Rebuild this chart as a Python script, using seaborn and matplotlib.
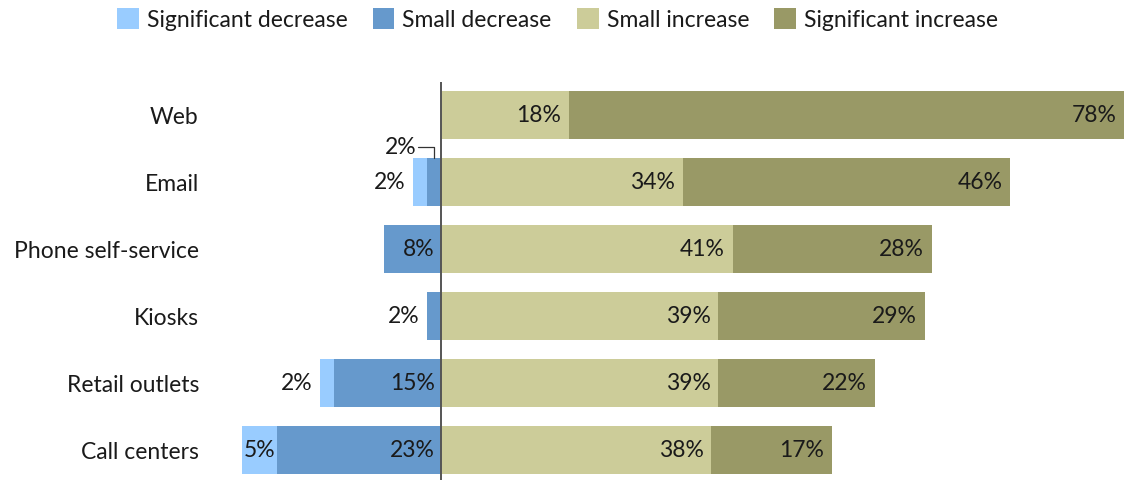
import matplotlib
matplotlib.use("Agg")
import matplotlib.pyplot as plt
import seaborn as sns
from matplotlib.patches import Patch

categories = ["Web", "Email", "Phone self-service", "Kiosks", "Retail outlets", "Call centers"]
sig_dec = [0, 2, 0, 0, 2, 5]
small_dec = [0, 2, 8, 2, 15, 23]
small_inc = [18, 34, 41, 39, 39, 38]
sig_inc = [78, 46, 28, 29, 22, 17]

legend_labels = ["Significant decrease", "Small decrease", "Small increase", "Significant increase"]
colors = ["#99ccff", "#6699cc", "#cccc99", "#999966"]

sns.set_theme(style="white")
plt.rcParams["font.family"] = ["Lato", "DejaVu Sans"]
plt.rcParams["text.color"] = "#1a1a1a"

W, H = 1124, 481
fig = plt.figure(figsize=(W / 100, H / 100), dpi=100)
ax_left_px, ax_top_px = 210, 83
ax = fig.add_axes([ax_left_px / W, 0, 1 - ax_left_px / W, (H - ax_top_px) / H])

tot_pos = [a + b for a, b in zip(small_inc, sig_inc)]
tot_neg = [-(a + b) for a, b in zip(small_dec, sig_dec)]
neg_small = [-v for v in small_dec]

bw = 0.72
sns.barplot(x=tot_pos, y=categories, orient="h", color=colors[3], width=bw, linewidth=0, saturation=1, ax=ax)
sns.barplot(x=small_inc, y=categories, orient="h", color=colors[2], width=bw, linewidth=0, saturation=1, ax=ax)
sns.barplot(x=tot_neg, y=categories, orient="h", color=colors[0], width=bw, linewidth=0, saturation=1, ax=ax)
sns.barplot(x=neg_small, y=categories, orient="h", color=colors[1], width=bw, linewidth=0, saturation=1, ax=ax)

ax.set_xlim(-(441 - ax_left_px) / 7.115, 96)
ax.set_ylim(5.45, -0.49)
ax.axvline(0, color="#555555", lw=1.4, zorder=5)
for s in ax.spines.values():
    s.set_visible(False)
ax.set_xticks([])
ax.set_xlabel("")
ax.set_ylabel("")
fs = 16.5
ax.tick_params(axis="y", length=0, pad=8, labelsize=fs, labelcolor="#1a1a1a")

pad = 1.1
for i in range(len(categories)):
    # positive labels
    ax.text(small_inc[i] - pad, i, f"{small_inc[i]}%", ha="right", va="center", fontsize=fs)
    ax.text(tot_pos[i] - pad, i, f"{sig_inc[i]}%", ha="right", va="center", fontsize=fs)
    start = tot_neg[i]
    # small decrease
    if small_dec[i] >= 5:
        ax.text(-0.9, i, f"{small_dec[i]}%", ha="right", va="center", fontsize=fs, zorder=6)
    elif small_dec[i] > 0:
        if sig_dec[i] > 0:
            mid = -small_dec[i] / 2
            ly = i - 0.52
            ax.plot([-3.2, mid, mid], [ly, ly, i - bw / 2], color="#333333", lw=0.9)
            ax.text(-3.5, ly, f"{small_dec[i]}%", ha="right", va="center", fontsize=fs)
        else:
            ax.text(start - 1.0, i, f"{small_dec[i]}%", ha="right", va="center", fontsize=fs)
    # significant decrease
    if sig_dec[i] >= 5:
        ax.text(start + sig_dec[i] / 2, i, f"{sig_dec[i]}%", ha="center", va="center", fontsize=fs)
    elif sig_dec[i] > 0:
        ax.text(start - 1.0, i, f"{sig_dec[i]}%", ha="right", va="center", fontsize=fs)

handles = [Patch(facecolor=c, edgecolor="none") for c in colors]
fig.legend(handles, legend_labels, loc="upper center", bbox_to_anchor=(0.496, 1.006), ncol=4,
           frameon=False, fontsize=fs, handlelength=0.95, handleheight=1.05, handletextpad=0.35,
           columnspacing=1.1, borderaxespad=0.1)

fig.savefig("out.png", dpi=100)
